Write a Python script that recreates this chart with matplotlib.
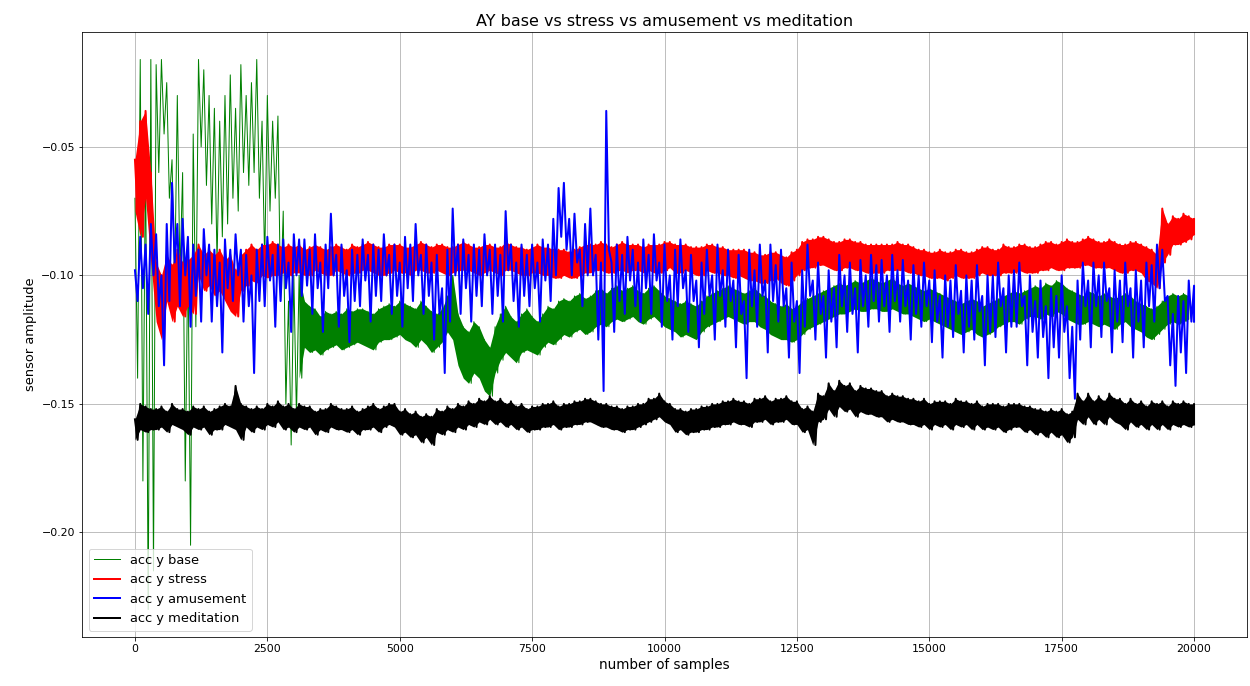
import numpy as np
import matplotlib
matplotlib.use("Agg")
import matplotlib.pyplot as plt

amostras = np.arange(0, 20001, 100)

base_faixa = [
    (-70, -140), (-16, -180), (-50, -230), (-16, -215), (-18, -60), (-16, -45), (-25, -70), (-55, -105), (-30, -100), (-60, -180),
    (-90, -205), (-45, -120), (-16, -50), (-20, -65), (-30, -80), (-35, -95), (-40, -85), (-30, -80), (-22, -70), (-35, -75),
    (-18, -60), (-30, -65), (-25, -60), (-16, -70), (-40, -95), (-30, -75), (-40, -70), (-38, -110), (-75, -150), (-110, -166),
    (-100, -155), (-100, -140), (-110, -128), (-112, -130), (-113, -129), (-116, -131), (-114, -129), (-115, -128), (-114, -127), (-115, -129),
    (-113, -128), (-114, -127), (-113, -126), (-113, -127), (-114, -128), (-115, -129), (-113, -126), (-112, -125), (-111, -125), (-112, -124),
    (-110, -123), (-111, -125), (-112, -126), (-113, -128), (-110, -125), (-112, -127), (-114, -130), (-115, -128), (-113, -126), (-108, -122),
    (-100, -125), (-115, -135), (-120, -140), (-122, -142), (-118, -138), (-120, -140), (-125, -145), (-128, -147), (-120, -138), (-115, -133),
    (-112, -130), (-116, -132), (-118, -134), (-115, -130), (-113, -129), (-116, -130), (-118, -131), (-115, -128), (-112, -126), (-113, -127),
    (-110, -125), (-109, -123), (-110, -124), (-108, -122), (-107, -121), (-109, -123), (-108, -122), (-106, -120), (-105, -119), (-107, -120),
    (-105, -118), (-104, -117), (-106, -118), (-105, -117), (-104, -116), (-106, -118), (-107, -119), (-105, -117), (-104, -116), (-106, -118),
    (-108, -120), (-109, -121), (-110, -122), (-111, -124), (-110, -123), (-111, -124), (-112, -125), (-110, -122), (-108, -120), (-107, -119),
    (-106, -118), (-105, -117), (-104, -116), (-105, -117), (-106, -118), (-107, -119), (-106, -118), (-105, -118), (-107, -120), (-108, -121),
    (-110, -123), (-111, -124), (-112, -125), (-111, -125), (-113, -126), (-112, -125), (-110, -123), (-109, -121), (-108, -120), (-107, -119),
    (-106, -118), (-105, -117), (-104, -116), (-103, -115), (-104, -115), (-103, -114), (-102, -113), (-103, -114), (-102, -114), (-101, -113),
    (-102, -113), (-103, -114), (-102, -114), (-101, -113), (-103, -114), (-104, -115), (-103, -115), (-104, -116), (-105, -117), (-106, -118),
    (-105, -117), (-106, -118), (-107, -119), (-108, -120), (-109, -121), (-110, -122), (-111, -123), (-110, -122), (-109, -121), (-110, -123),
    (-112, -124), (-111, -123), (-110, -122), (-109, -120), (-108, -119), (-107, -118), (-106, -118), (-107, -119), (-106, -117), (-105, -116),
    (-104, -116), (-105, -117), (-103, -115), (-104, -116), (-102, -114), (-103, -115), (-105, -117), (-106, -118), (-107, -119), (-108, -119),
    (-106, -118), (-107, -119), (-108, -120), (-107, -119), (-108, -120), (-109, -121), (-108, -119), (-107, -118), (-108, -120), (-110, -121),
    (-111, -122), (-112, -124), (-113, -125), (-112, -123), (-110, -121), (-108, -119), (-107, -118), (-108, -119), (-107, -118), (-108, -117),
]

stress_faixa = [
    (-55, -75), (-40, -85), (-36, -70), (-60, -95), (-95, -118), (-100, -125), (-92, -110), (-96, -118), (-90, -112), (-95, -116),
    (-94, -112), (-92, -115), (-88, -100), (-92, -106), (-90, -104), (-92, -108), (-90, -106), (-94, -110), (-92, -114), (-98, -116),
    (-92, -106), (-90, -104), (-88, -102), (-90, -103), (-88, -100), (-88, -101), (-87, -100), (-88, -100), (-89, -99), (-88, -100),
    (-89, -99), (-88, -99), (-90, -100), (-89, -100), (-88, -98), (-89, -99), (-90, -100), (-89, -100), (-88, -98), (-89, -99),
    (-90, -100), (-88, -99), (-89, -99), (-88, -98), (-87, -98), (-88, -99), (-89, -100), (-89, -100), (-88, -99), (-88, -98),
    (-88, -99), (-89, -99), (-89, -100), (-88, -98), (-87, -98), (-88, -99), (-89, -99), (-88, -98), (-88, -99), (-89, -100),
    (-89, -99), (-88, -98), (-87, -98), (-88, -98), (-89, -99), (-89, -100), (-88, -99), (-88, -98), (-89, -99), (-89, -100),
    (-87, -98), (-88, -98), (-89, -99), (-89, -100), (-90, -100), (-89, -99), (-88, -99), (-89, -100), (-89, -100), (-90, -101),
    (-90, -101), (-90, -100), (-91, -101), (-90, -101), (-89, -100), (-88, -99), (-88, -99), (-88, -98), (-87, -98), (-88, -99),
    (-89, -99), (-88, -98), (-87, -98), (-88, -99), (-88, -98), (-88, -98), (-89, -99), (-88, -98), (-88, -99), (-88, -99),
    (-87, -98), (-87, -97), (-88, -99), (-88, -99), (-88, -98), (-89, -99), (-89, -100), (-89, -100), (-88, -98), (-88, -99),
    (-89, -99), (-89, -100), (-90, -100), (-90, -101), (-90, -100), (-90, -101), (-91, -102), (-91, -102), (-92, -103), (-92, -103),
    (-91, -102), (-91, -101), (-92, -103), (-93, -104), (-91, -102), (-90, -100), (-87, -98), (-86, -97), (-86, -97), (-85, -96),
    (-85, -96), (-86, -97), (-87, -98), (-87, -98), (-86, -97), (-86, -97), (-87, -98), (-87, -98), (-88, -99), (-88, -99),
    (-88, -99), (-88, -99), (-88, -98), (-88, -98), (-87, -98), (-88, -98), (-88, -99), (-89, -99), (-90, -100), (-90, -100),
    (-91, -101), (-91, -101), (-90, -101), (-91, -102), (-91, -101), (-90, -100), (-90, -101), (-91, -101), (-91, -101), (-90, -100),
    (-89, -99), (-89, -100), (-90, -100), (-90, -100), (-88, -99), (-89, -99), (-89, -99), (-88, -98), (-88, -99), (-89, -99),
    (-89, -99), (-88, -98), (-87, -98), (-87, -97), (-88, -98), (-87, -98), (-86, -97), (-87, -97), (-87, -97), (-86, -96),
    (-85, -96), (-86, -97), (-87, -97), (-87, -97), (-86, -97), (-87, -98), (-88, -99), (-88, -99), (-87, -98), (-87, -98),
    (-88, -99), (-89, -102), (-90, -103), (-92, -105), (-74, -95), (-80, -92), (-77, -88), (-78, -88), (-76, -87), (-77, -86),
    (-78, -84),
]

amusement_faixa = [
    (-98, -110), (-85, -105), (-88, -115), (-80, -100), (-84, -112), (-100, -135), (-80, -110), (-64, -95), (-80, -112), (-78, -100),
    (-85, -120), (-88, -108), (-90, -118), (-82, -100), (-88, -118), (-90, -112), (-95, -130), (-86, -105), (-90, -110), (-84, -100),
    (-90, -118), (-92, -112), (-100, -138), (-90, -110), (-88, -112), (-85, -102), (-92, -120), (-88, -110), (-86, -105), (-95, -122),
    (-84, -100), (-86, -108), (-86, -104), (-90, -115), (-84, -105), (-95, -122), (-88, -105), (-76, -100), (-92, -120), (-88, -108),
    (-98, -126), (-90, -110), (-92, -112), (-86, -102), (-92, -118), (-88, -108), (-90, -110), (-84, -100), (-92, -115), (-88, -108),
    (-95, -120), (-85, -105), (-88, -110), (-80, -100), (-92, -115), (-88, -108), (-95, -125), (-92, -115), (-105, -138), (-90, -118),
    (-74, -100), (-88, -115), (-86, -105), (-92, -118), (-88, -108), (-90, -112), (-84, -100), (-90, -115), (-88, -108), (-92, -118),
    (-75, -98), (-88, -110), (-95, -120), (-88, -108), (-92, -112), (-88, -105), (-95, -118), (-86, -102), (-88, -110), (-78, -100),
    (-66, -85), (-64, -90), (-78, -100), (-76, -95), (-90, -112), (-80, -100), (-74, -100), (-92, -125), (-95, -145), (-36, -90),
    (-95, -122), (-88, -110), (-92, -115), (-85, -102), (-90, -112), (-95, -118), (-86, -105), (-92, -115), (-84, -102), (-95, -120),
    (-88, -110), (-100, -125), (-90, -112), (-86, -105), (-98, -122), (-92, -110), (-102, -128), (-95, -115), (-90, -108), (-100, -125),
    (-88, -108), (-98, -120), (-90, -110), (-102, -128), (-92, -115), (-110, -140), (-90, -112), (-98, -120), (-88, -108), (-102, -130),
    (-88, -110), (-96, -118), (-90, -112), (-105, -132), (-95, -118), (-110, -138), (-98, -120), (-88, -108), (-102, -125), (-95, -115),
    (-108, -132), (-98, -118), (-105, -128), (-92, -112), (-100, -122), (-95, -115), (-105, -130), (-94, -112), (-100, -120), (-92, -110),
    (-96, -118), (-94, -112), (-100, -122), (-92, -110), (-98, -118), (-94, -112), (-102, -125), (-96, -115), (-100, -120), (-95, -112),
    (-102, -126), (-98, -118), (-108, -132), (-100, -120), (-102, -124), (-96, -115), (-106, -130), (-100, -120), (-102, -125), (-96, -114),
    (-108, -135), (-100, -122), (-100, -124), (-95, -112), (-105, -130), (-100, -120), (-98, -120), (-95, -112), (-108, -135), (-100, -122),
    (-110, -132), (-102, -124), (-112, -140), (-105, -128), (-108, -132), (-100, -122), (-112, -140), (-120, -148), (-102, -125), (-95, -112),
    (-102, -128), (-95, -112), (-100, -124), (-95, -110), (-105, -130), (-98, -118), (-102, -126), (-95, -112), (-105, -132), (-98, -118),
    (-102, -128), (-95, -112), (-96, -118), (-88, -105), (-90, -110), (-108, -135), (-115, -143), (-108, -130), (-110, -138), (-102, -118),
    (-104, -118),
]

meditation_faixa = [
    (-156, -164), (-150, -160), (-151, -161), (-152, -160), (-152, -160), (-151, -159), (-153, -161), (-150, -158), (-152, -159), (-152, -160),
    (-153, -162), (-151, -159), (-152, -160), (-151, -159), (-153, -162), (-152, -160), (-151, -160), (-150, -158), (-151, -159), (-143, -160),
    (-150, -164), (-151, -159), (-152, -161), (-151, -159), (-152, -160), (-150, -158), (-151, -159), (-149, -157), (-151, -160), (-150, -159),
    (-152, -161), (-150, -159), (-151, -160), (-151, -159), (-153, -162), (-152, -160), (-152, -161), (-150, -159), (-151, -160), (-152, -160),
    (-152, -161), (-151, -160), (-153, -162), (-152, -160), (-151, -160), (-150, -159), (-152, -161), (-151, -159), (-150, -158), (-150, -159),
    (-153, -162), (-152, -161), (-154, -163), (-153, -162), (-155, -165), (-154, -163), (-155, -166), (-152, -161), (-153, -162), (-151, -160),
    (-152, -161), (-150, -159), (-151, -160), (-149, -158), (-150, -159), (-148, -157), (-149, -158), (-147, -156), (-149, -158), (-148, -157),
    (-150, -159), (-149, -158), (-151, -160), (-150, -159), (-152, -161), (-151, -160), (-151, -160), (-150, -159), (-150, -159), (-149, -158),
    (-151, -160), (-150, -159), (-150, -159), (-149, -158), (-149, -158), (-148, -157), (-148, -157), (-149, -158), (-150, -159), (-150, -159),
    (-151, -160), (-151, -160), (-152, -161), (-151, -160), (-151, -160), (-150, -159), (-150, -158), (-148, -157), (-148, -156), (-146, -155),
    (-149, -157), (-150, -158), (-152, -161), (-152, -160), (-153, -162), (-152, -161), (-152, -161), (-151, -160), (-151, -160), (-150, -159),
    (-150, -159), (-149, -158), (-149, -158), (-148, -157), (-149, -158), (-149, -158), (-150, -159), (-148, -157), (-148, -157), (-147, -156),
    (-149, -158), (-148, -157), (-148, -157), (-147, -156), (-149, -158), (-149, -158), (-152, -161), (-151, -160), (-153, -166), (-146, -157),
    (-147, -156), (-142, -152), (-145, -155), (-141, -151), (-143, -153), (-142, -152), (-145, -155), (-143, -153), (-144, -154), (-144, -154),
    (-145, -155), (-145, -155), (-147, -157), (-146, -156), (-147, -157), (-147, -157), (-148, -158), (-148, -158), (-149, -159), (-148, -158),
    (-150, -160), (-149, -158), (-149, -159), (-149, -158), (-150, -160), (-148, -158), (-149, -159), (-149, -158), (-150, -160), (-149, -158),
    (-151, -160), (-150, -159), (-150, -160), (-150, -159), (-151, -161), (-150, -160), (-150, -159), (-150, -159), (-151, -161), (-151, -160),
    (-152, -162), (-152, -161), (-153, -163), (-152, -161), (-153, -163), (-152, -162), (-154, -165), (-153, -163), (-146, -156), (-149, -158),
    (-146, -155), (-149, -158), (-147, -156), (-149, -158), (-146, -155), (-148, -157), (-148, -158), (-150, -160), (-148, -157), (-150, -159),
    (-149, -158), (-151, -160), (-149, -158), (-150, -160), (-149, -158), (-151, -160), (-149, -158), (-150, -159), (-149, -158), (-150, -159),
    (-150, -158),
]


def serie(faixa):
    # topo e fundo de cada trecho, alternados a cada 50 amostras
    y = np.array(faixa).ravel() / 1000
    x = np.repeat(amostras[:len(faixa)], 2).astype(float)
    x[1::2] += 50
    x = np.minimum(x, 20000)
    return x, y


def desenha(ax, faixa, cor, lw, rotulo, z, inicio=0, preencher=True):
    x, y = serie(faixa)
    ax.plot(x, y, color=cor, linewidth=lw, label=rotulo, zorder=z)
    if preencher:
        f = np.array(faixa)[inicio:] / 1000
        xs = amostras[inicio:len(faixa)]
        ax.fill_between(xs, f[:, 1], f[:, 0], color=cor, linewidth=0, zorder=z)


fig = plt.figure(figsize=(1250 / 72, 686 / 72), dpi=72)
ax = fig.add_axes([0.0656, 0.0714, 0.932, 0.882])

desenha(ax, base_faixa, 'green', 1, 'acc y base', 2, inicio=31)
desenha(ax, stress_faixa, 'red', 2, 'acc y stress', 3)
desenha(ax, amusement_faixa, 'blue', 2, 'acc y amusement', 4, preencher=False)
desenha(ax, meditation_faixa, 'black', 2, 'acc y meditation', 5)

ax.set_title("AY base vs stress vs amusement vs meditation", fontsize=16)
ax.set_xlabel("number of samples", fontsize=13.5)
ax.set_ylabel("sensor amplitude", fontsize=13)
ax.tick_params(labelsize=11)
leg = ax.legend(loc='lower left', fontsize=13)
leg.set_zorder(10)
ax.grid(True)

fig.savefig("out.png", dpi=72)
